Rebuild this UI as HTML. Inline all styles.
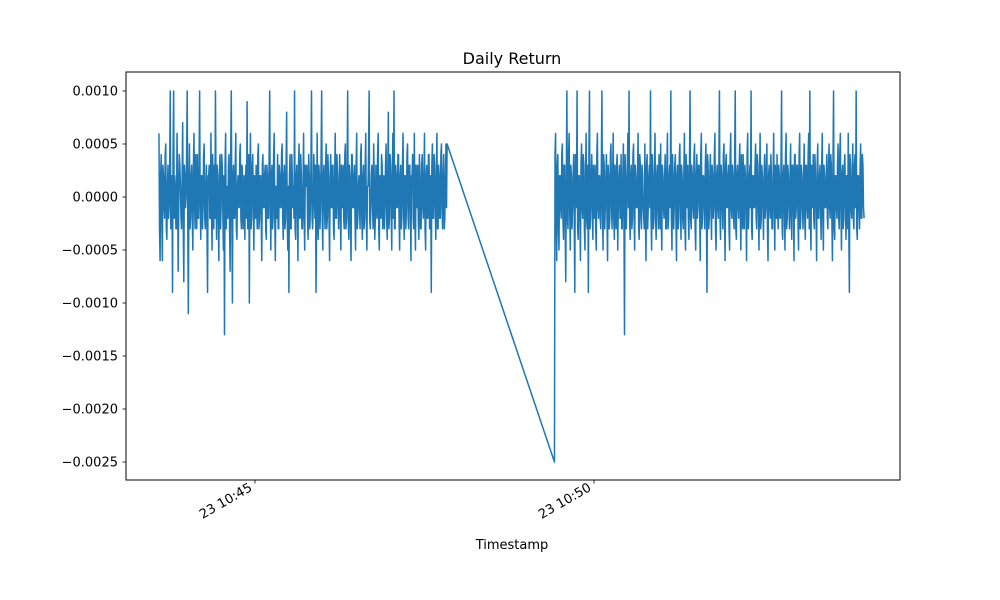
<!DOCTYPE html>
<html><head><meta charset="utf-8">
<style>
html,body{margin:0;padding:0;background:#fff;}
svg{display:block;font-family:"DejaVu Sans","Liberation Sans",sans-serif;}
</style></head>
<body>
<svg id="chart" width="1000" height="600" viewBox="0 0 1000 600" xmlns="http://www.w3.org/2000/svg">
<rect width="1000" height="600" fill="#fff"/>
<text x="512" y="64" font-size="16" text-anchor="middle">Daily Return</text>
<text x="512" y="549" font-size="13" text-anchor="middle">Timestamp</text>
<g id="plot"></g>
<rect x="126" y="72" width="774" height="408" fill="none" stroke="#000" stroke-width="1"/>
</svg>
<script>
// values in units of 0.0001
const seg1Start = 215; // seconds after 10:40:00 (10:43:35)
const seg1Values = [
6,-6,4,-6,2,-2,5,-4,3,-1,10,-2,-9,10,2,-3,6,-7,4,1,
-3,7,-8,2,0,10,-11,5,-2,3,-5,6,-3,1,4,-2,10,-4,2,-1,
5,-3,3,-9,2,-2,6,-5,1,3,10,-4,2,-6,4,-1,3,-5,-13,6,
1,-2,4,-7,10,-10,3,-2,6,-4,2,-1,5,-3,2,0,-4,3,9,-3,
-10,6,-2,4,-5,1,3,-3,5,-2,2,-6,4,-1,3,-4,2,-2,10,-5,
3,-2,6,-6,1,4,-3,2,-1,5,-4,3,-2,8,-5,-9,4,-3,2,1,
10,-4,3,-6,5,-2,2,-3,6,-5,1,3,-4,2,-1,10,-3,4,-2,-9,
6,-4,2,-1,10,-5,3,-3,5,-2,2,-6,4,-1,3,-4,6,-2,2,-3,
4,-5,1,3,-3,5,-2,10,-4,2,-6,4,-1,3,-5,6,-2,2,-3,5,
-4,3,-2,6,-5,1,10,-3,2,-1,5,-4,3,-2,6,-5,1,4,-3,2,
-1,5,-4,8,-2,3,-5,6,10,-3,2,-1,4,-5,3,-2,6,-4,2,-1,
5,-3,3,-6,2,-2,6,-5,1,3,-4,2,-3,4,-2,6,-5,3,-2,4,
-3,-9,5,-2,3,-4,6,-3,2,-2,5,-3,4,-2,5,5];
// half-second intermediate readings
const seg1Mid = [
-3,2,-2,3,-1,4,-3,1,-2,3,-3,2,4,-2,1,-3,2,-1,3,-2,
2,-3,3,-1,4,-2,1,-3,2,-2,3,-1,4,-3,-2,3,-1,2,-3,4,
-2,1,-3,2,3,-2,-1,4,-3,-2,1,3,-2,2,-3,4,-1,2,3,-3,
-2,3,-3,4,-1,2,-2,3,-3,1,-1,4,-2,3,-3,2,1,-2,-3,4,
2,-3,3,-1,2,-2,-1,4,-3,2,-2,3,-1,2,-3,3,-2,4,-1,2,
-3,4,-2,1,-2,-3,3,-1,4,-2,2,-3,3,-2,1,2,-3,4,-1,-2,
-3,2,-1,3,-2,4,-3,1,-2,3,2,-2,4,-3,3,-2,-1,2,3,-3,
-2,3,-3,4,-2,2,-1,3,-3,4,-2,2,-1,3,-3,2,-2,4,-1,2,
-2,3,-1,-2,4,-3,2,-2,3,-3,4,-1,2,-2,3,-3,1,-1,4,-2,
2,-3,3,-2,1,4,-2,-1,3,-3,2,-2,-1,4,-3,2,-2,3,-1,-3,
3,-2,2,-3,4,-1,2,-2,-3,3,-1,4,-2,2,-3,3,-1,2,-3,4,
-2,3,-1,2,4,-3,-2,3,-1,-2,4,-3,3,-1,2,-3,2,-2,4,-3,
2,3,-2,4,-1,2,-3,3,-2,4,-1,2,-3,2,-1];
const seg2Start = 565; // 10:49:25
const seg2Values = [
-25,6,-6,4,-5,2,-2,5,-4,3,-8,10,-3,6,-5,2,-1,4,-9,3,
10,-4,2,-6,5,-2,3,-5,6,-3,-9,10,-2,4,-4,1,3,-5,6,-2,
2,-3,10,-5,3,-1,4,-6,2,-2,5,-3,6,-4,1,3,-5,2,-2,4,
-3,5,-13,2,-1,6,10,-4,3,-2,5,-5,2,-1,6,-4,3,-3,2,-2,
5,-6,4,-1,3,10,-5,2,-2,6,-4,3,-3,1,5,-5,2,-2,4,-3,
6,-2,3,10,-5,2,-1,4,-6,3,-2,5,-4,2,-3,6,-5,1,3,-4,
10,-3,2,-2,5,-5,4,-1,3,-6,6,-2,2,-3,5,-9,3,-2,4,-4,
2,-1,6,-5,3,-2,10,-4,2,-3,5,-6,4,-1,3,-5,6,-2,2,-3,
10,-4,3,-2,5,-5,1,4,-3,2,-6,6,-2,3,10,-4,2,-1,5,-3,
3,-5,6,-2,2,-4,4,-1,5,-6,3,-2,2,-3,6,-5,1,4,-3,2,
-2,10,-4,3,-5,6,-2,2,-3,5,-4,3,-6,4,-1,3,-5,6,-2,2,
-3,5,-4,3,-2,6,10,-5,1,4,-3,2,-6,5,-2,3,-4,6,-5,2,
-1,4,-3,5,-2,3,-6,10,-4,2,-2,5,-3,6,-5,3,-2,4,-4,2,
6,-9,3,-2,5,-3,4,10,-4,2,-3,5,-2,3,-2];
const seg2Mid = [
4,-2,3,-3,2,-1,4,-2,3,-3,2,-2,4,-1,3,-3,2,-2,4,-1,
-3,2,-2,3,-1,4,-3,2,-2,3,4,-3,2,-1,3,-2,-3,4,-1,2,
-2,3,-1,4,-3,2,-2,3,-3,4,-1,2,-2,3,-3,4,-1,3,-2,-3,
2,-2,4,-3,3,-1,-2,2,-3,4,-2,3,-1,2,-3,4,-2,3,-1,-3,
-2,3,-3,2,-1,-2,4,-3,3,-2,2,-1,4,-3,-2,3,-1,2,-3,3,
-3,2,-1,-2,4,-3,3,-2,2,-3,4,-1,3,-2,2,-3,4,-1,-2,3,
-2,3,-1,4,-3,2,-2,3,-1,4,-3,2,-1,3,-2,4,-3,2,-1,3,
-2,4,-3,2,-1,3,-2,3,-1,4,-2,3,-1,2,-3,4,-1,3,-2,4,
-3,2,-1,3,-2,4,-3,-2,3,-1,4,-3,2,-1,-3,2,-1,3,-2,4,
-1,2,-3,3,-1,2,-2,3,-3,2,-1,4,-3,2,-1,3,-2,-1,3,-2,
3,-3,2,-1,4,-3,3,-1,2,-2,3,-1,4,-2,3,-2,4,-3,3,-1,
2,-2,3,-1,4,-3,-2,3,-1,-2,4,-1,3,-2,2,-1,3,-2,3,-1,
2,-2,3,-1,4,-2,3,-3,2,-1,3,-2,4,-1,2,-3,3,-1,2,-3,
-3,4,-1,2,-2,3,-1,-3,2,-1,3,-2,4,-1];
const yTicks = [10,5,0,-5,-10,-15,-20,-25];
const yTickLabels = ["0.0010","0.0005","0.0000","\u22120.0005","\u22120.0010","\u22120.0015","\u22120.0020","\u22120.0025"];
const xTicks = [300,600];
const xTickLabels = ["23 10:45","23 10:50"];

const NS="http://www.w3.org/2000/svg";
function xs(t){return 255+(t-300)*1.13;}
function ys(v){return 197-v*10.6;}
const plot=document.getElementById('plot');
function mk(tag,attrs){const e=document.createElementNS(NS,tag);for(const k in attrs)e.setAttribute(k,attrs[k]);return e;}

yTicks.forEach((v,i)=>{
  const y=ys(v);
  const t=mk('line',{x1:122.5,x2:126,y1:y,y2:y,stroke:'#000','stroke-width':0.8});
  
  
  plot.appendChild(t);
  const l=mk('text',{x:118,y:y+4.5,'font-size':13,'text-anchor':'end'});
  
  
  l.textContent=yTickLabels[i];
  plot.appendChild(l);
});
xTicks.forEach((t,i)=>{
  const x=xs(t);
  const tk=mk('line',{x1:x,x2:x,y1:480,y2:483.5,stroke:'#000','stroke-width':0.8});
  
  
  plot.appendChild(tk);
  const ax=x-2, ay=490;
  const l=mk('text',{x:ax,y:ay,'font-size':13,'text-anchor':'end',transform:'rotate(-30 '+ax+' '+ay+')'});
  
  
  l.textContent=xTickLabels[i];
  plot.appendChild(l);
});
function segPts(start,vals,mids){
  const p=[];
  vals.forEach((v,i)=>{
    p.push(xs(start+i).toFixed(2)+','+ys(v).toFixed(2));
    if(i<vals.length-1 && mids[i]!==undefined) p.push(xs(start+i+0.5).toFixed(2)+','+ys(mids[i]).toFixed(2));
  });
  return p;
}
const pts=segPts(seg1Start,seg1Values,seg1Mid).concat(segPts(seg2Start,seg2Values,seg2Mid));
const line=mk('polyline',{points:pts.join(' '),fill:'none',stroke:'#1f77b4','stroke-width':1.5,'stroke-linejoin':'round'});


plot.appendChild(line);
</script>
</body></html>
